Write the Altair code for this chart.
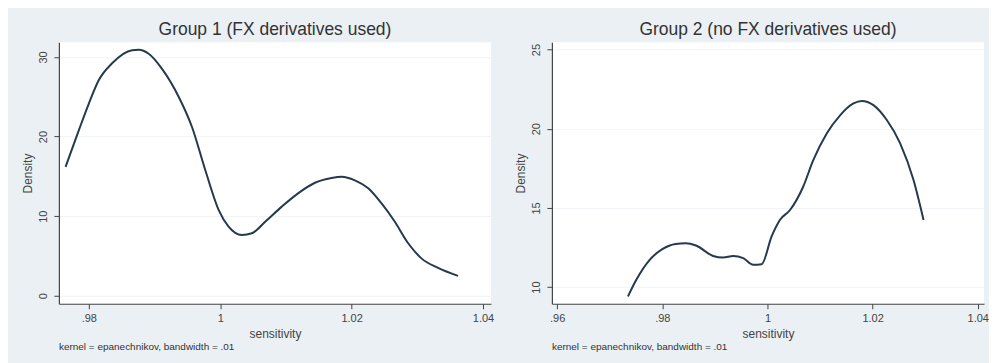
import altair as alt
import pandas as pd

# Group 1 (FX derivatives used) - kernel density estimate
g1_x = [0.97646, 0.97848, 0.98000, 0.98152, 0.98354, 0.98658, 0.98759, 0.98911,
        0.99114, 0.99367, 0.99570, 0.99772, 0.99975, 1.00127, 1.00329, 1.00481,
        1.00684, 1.00937, 1.01190, 1.01443, 1.01696, 1.01848, 1.02050, 1.02253,
        1.02456, 1.02658, 1.02861, 1.03063, 1.03316, 1.03620]
g1_y = [16.2, 20.8, 24.15, 27.1, 29.2, 30.85, 30.9, 30.4,
        28.5, 25.0, 21.2, 15.8, 10.8, 8.7, 7.65, 7.85,
        9.3, 11.2, 12.9, 14.2, 14.8, 14.95, 14.5, 13.5,
        11.6, 9.3, 6.6, 4.7, 3.5, 2.5]

# Group 2 (no FX derivatives used)
g2_x = [0.97347, 0.97506, 0.97760, 0.98000, 0.98254, 0.98445, 0.98640, 0.98967,
        0.99158, 0.99349, 0.99540, 0.99730, 0.99890, 1.00080, 1.00240, 1.00430,
        1.00680, 1.00870, 1.01128, 1.01382, 1.01636, 1.01795, 1.02017, 1.02271,
        1.02525, 1.02779, 1.02970]
g2_y = [9.41, 10.46, 11.72, 12.4, 12.73, 12.77, 12.63, 11.97,
        11.87, 11.97, 11.83, 11.41, 11.45, 13.2, 14.25, 14.87,
        16.34, 18.0, 19.7, 20.85, 21.6, 21.76, 21.49, 20.55,
        19.08, 16.76, 14.24]

g1_xticks = [0.98, 1.0, 1.02, 1.04]
g1_yticks = [0, 10, 20, 30]
g2_xticks = [0.96, 0.98, 1.0, 1.02, 1.04]
g2_yticks = [10, 15, 20, 25]

titles = ["Group 1 (FX derivatives used)", "Group 2 (no FX derivatives used)"]
note = "kernel = epanechnikov, bandwidth = .01"

FONT = "Arial"
LINE = "#25394f"
BG = "#eaf0f3"

label_expr = ("datum.value < 1 ? slice(format(datum.value, '.2f'), 1) "
              ": format(datum.value, '~g')")


def panel(xs, ys, xticks, yticks, xdom, ydom, title, w):
    df = pd.DataFrame({"sensitivity": xs, "Density": ys})
    h = 262
    line = alt.Chart(df).mark_line(color=LINE, strokeWidth=2, interpolate="monotone").encode(
        x=alt.X("sensitivity:Q",
                scale=alt.Scale(domain=xdom, nice=False, zero=False),
                axis=alt.Axis(values=xticks, labelExpr=label_expr, grid=False,
                              title="sensitivity", titleFontWeight="normal",
                              titleFontSize=12, titlePadding=5,
                              labelFontSize=11, labelPadding=4, tickSize=5,
                              labelFlush=False)),
        y=alt.Y("Density:Q",
                scale=alt.Scale(domain=ydom, nice=False, zero=False),
                axis=alt.Axis(values=yticks, grid=True, gridColor="#f0f4f6",
                              title="Density", titleFontWeight="normal",
                              titleFontSize=12, titlePadding=3,
                              labelFontSize=11, labelAngle=270, labelPadding=5,
                              tickSize=5, labelFlush=False)),
    )
    foot = alt.Chart(pd.DataFrame({"t": [note]})).mark_text(
        align="left", baseline="middle", fontSize=10, font=FONT, color="#333"
    ).encode(x=alt.value(0), y=alt.value(h + 43), text="t:N")
    return alt.layer(line, foot).properties(
        width=w, height=h,
        title=alt.TitleParams(title, fontSize=17.5, fontWeight="normal",
                              font=FONT, color="#333", offset=4),
    )


left = panel(g1_x, g1_y, g1_xticks, g1_yticks, [0.97544, 1.04122], [-1.0, 31.84],
             titles[0], 433)
right = panel(g2_x, g2_y, g2_xticks, g2_yticks, [0.9590, 1.0412], [8.95, 25.46],
              titles[1], 433)

chart = alt.hconcat(left, right, spacing=61, bounds="flush").properties(
    background=BG,
    padding={"left": 13, "top": 12, "right": 0, "bottom": 12},
).configure_view(
    fill="white", stroke=None
).configure_axis(
    domainColor="#444", tickColor="#444", labelColor="#444", titleColor="#444",
    labelFont=FONT, titleFont=FONT, domainWidth=1.2,
).configure_title(anchor="middle")

chart.save("out.html", embed_options={"renderer": "svg", "actions": False})
